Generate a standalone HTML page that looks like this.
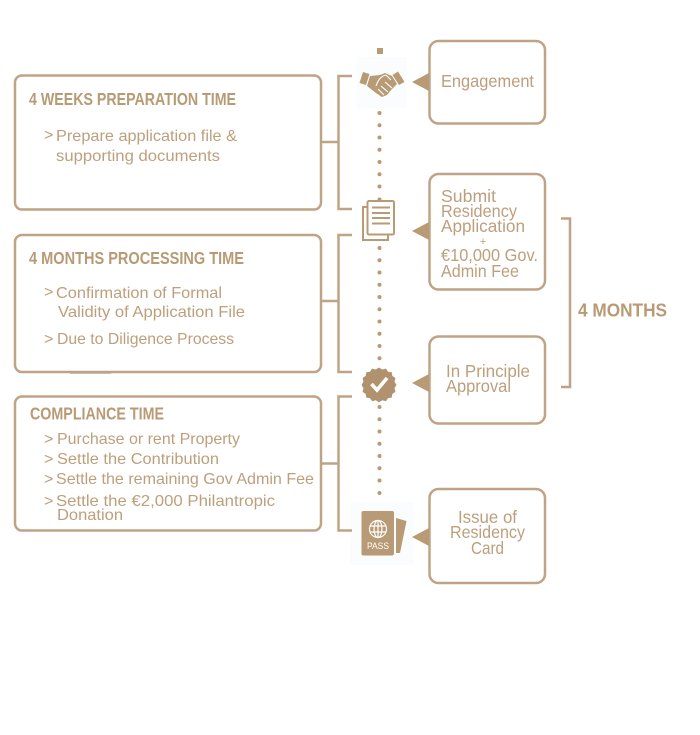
<!DOCTYPE html>
<html>
<head>
<meta charset="utf-8">
<style>
html,body{margin:0;padding:0;background:#fff;width:700px;height:735px;overflow:hidden}
svg{display:block}
text{font-family:"Liberation Sans",sans-serif;fill:#bd9f7c}
.h{font-weight:bold;font-size:17.500px;fill:#b89a74}
.t{font-size:16px}
.r{font-size:17.500px}
</style>
</head>
<body>
<svg width="700" height="735" viewBox="0 0 700 735" xmlns="http://www.w3.org/2000/svg">
<rect width="700" height="735" fill="#fff"/>
<rect x="357" y="57" width="50" height="51" fill="#fbfcfe"/>
<rect x="350" y="502" width="64" height="63" fill="#fbfcfe"/>
<rect x="70" y="371" width="41" height="3" fill="#c4c6cb"/>

<!-- left boxes -->
<g fill="none" stroke="#bfa385" stroke-width="2.500">
<rect x="15" y="75.500" width="306" height="134" rx="7"/>
<rect x="15" y="235" width="306" height="137" rx="7"/>
<rect x="15" y="396.500" width="306" height="134" rx="7"/>
<!-- brackets -->
<path d="M352 76H338.500V209H352M321 142H338.500"/>
<path d="M352 235H338.500V372H352M321 301H338.500"/>
<path d="M352 396.500H338.500V530.500H352M321 463.500H338.500"/>
<!-- right boxes -->
<rect x="429.500" y="41" width="115.500" height="82.500" rx="9"/>
<rect x="429.500" y="174" width="115.500" height="115.500" rx="9"/>
<rect x="429.500" y="336.500" width="115.500" height="87" rx="9"/>
<rect x="429.500" y="489" width="115.500" height="94" rx="9"/>
<path d="M561 218.500H570V387H561"/>
</g>

<!-- triangles -->
<g fill="#b89a74">
<polygon points="412,82 429,73 429,91"/>
<polygon points="412,231 429,222 429,240"/>
<polygon points="412,383 429,374 429,392"/>
<polygon points="412,537 429,528 429,546"/>
</g>

<!-- dotted line -->
<rect x="377" y="48" width="6" height="6" fill="#b89a74"/>
<g fill="#b89a74">
<circle cx="379.500" cy="113" r="2"/><circle cx="379.500" cy="125.200" r="2"/><circle cx="379.500" cy="137.500" r="2"/><circle cx="379.500" cy="149.700" r="2"/><circle cx="379.500" cy="162" r="2"/><circle cx="379.500" cy="174.200" r="2"/><circle cx="379.500" cy="186.500" r="2"/>
<circle cx="379.500" cy="248" r="2"/><circle cx="379.500" cy="260.200" r="2"/><circle cx="379.500" cy="272.500" r="2"/><circle cx="379.500" cy="284.700" r="2"/><circle cx="379.500" cy="297" r="2"/><circle cx="379.500" cy="309.200" r="2"/><circle cx="379.500" cy="321.500" r="2"/><circle cx="379.500" cy="333.700" r="2"/><circle cx="379.500" cy="346" r="2"/><circle cx="379.500" cy="358.200" r="2"/>
<circle cx="379.500" cy="407" r="2"/><circle cx="379.500" cy="419.300" r="2"/><circle cx="379.500" cy="431.500" r="2"/><circle cx="379.500" cy="443.800" r="2"/><circle cx="379.500" cy="456" r="2"/><circle cx="379.500" cy="468.300" r="2"/><circle cx="379.500" cy="480.500" r="2"/><circle cx="379.500" cy="493" r="2"/>
</g>

<!-- handshake icon -->
<g fill="#b89a74">
<polygon points="363,72 369.500,74 366,85 359.500,83"/>
<polygon points="398,71.500 404.500,82 399,85 392.500,75"/>
<path d="M370,76 L380,75 L385,73 L392,76 L397,84 L392,89 L387,95 L382,97 L376,93 L367,86Z"/>
</g>
<path d="M376,86 C378,80 381,76 386,75 L391,80 M385,82 L392,88 M381,86 L388,92 M378,89 L384,95" fill="none" stroke="#fff" stroke-width="1.100"/>

<!-- documents icon -->
<g fill="none" stroke="#b89a74" stroke-width="2">
<path d="M367,207H363V240H388V235"/>
<rect x="367.500" y="201" width="26.500" height="33.500" rx="1.500" fill="#fff"/>
<path d="M372,207.500H390M372,213H390M372,218H390M372,223.500H390" stroke-width="2"/>
</g>
<circle cx="379.500" cy="199.500" r="2" fill="#b89a74"/>

<!-- check badge -->
<path transform="translate(379 384) scale(.92) translate(-379 -385)" d="M379 367l3.500 2.300 4-1 2.300 3.400 4 .5.700 4 3.400 2.300-1 4 2.100 3.500-2.100 3.500 1 4-3.400 2.300-.7 4-4 .5-2.300 3.400-4-1-3.500 2.300-3.500-2.300-4 1-2.300-3.400-4-.5-.7-4-3.400-2.300 1-4-2.100-3.500 2.100-3.500-1-4 3.400-2.300.7-4 4-.5 2.300-3.400 4 1z" fill="#b0926f"/>
<path d="M371.500,384 L377,390 L387,378" fill="none" stroke="#fff" stroke-width="3.600"/>

<!-- passport icon -->
<polygon points="396,518 406.500,521 400,553 396,553" fill="#b89a74"/>
<rect x="361.500" y="511" width="32.500" height="44.500" rx="2" fill="#b89a74"/>
<g fill="none" stroke="#fff" stroke-width="1.200">
<circle cx="378" cy="529" r="8.500"/>
<ellipse cx="378" cy="529" rx="4" ry="8.500"/>
<path d="M378,520.500V537.500M370,526H386M370,532H386"/>
</g>
<text x="378" y="549" text-anchor="middle" font-size="9" style="fill:#fff" textLength="22" lengthAdjust="spacingAndGlyphs">PASS</text>

<!-- left text -->
<text class="h" x="29" y="105" textLength="207" lengthAdjust="spacingAndGlyphs">4 WEEKS PREPARATION TIME</text>
<text class="t" x="44" y="140">&gt;</text>
<text class="t" x="56" y="141" textLength="181" lengthAdjust="spacingAndGlyphs">Prepare application file &amp;</text>
<text class="t" x="56" y="161" textLength="164" lengthAdjust="spacingAndGlyphs">supporting documents</text>

<text class="h" x="29" y="264" textLength="215" lengthAdjust="spacingAndGlyphs">4 MONTHS PROCESSING TIME</text>
<text class="t" x="44" y="297">&gt;</text>
<text class="t" x="56" y="298" textLength="166" lengthAdjust="spacingAndGlyphs">Confirmation of Formal</text>
<text class="t" x="58" y="317" textLength="187" lengthAdjust="spacingAndGlyphs">Validity of Application File</text>
<text class="t" x="44" y="344">&gt;</text>
<text class="t" x="57" y="344" textLength="177" lengthAdjust="spacingAndGlyphs">Due to Diligence Process</text>

<text class="h" x="30" y="419.500" textLength="134" lengthAdjust="spacingAndGlyphs">COMPLIANCE TIME</text>
<text class="t" x="44" y="444">&gt;</text>
<text class="t" x="57" y="444" textLength="183" lengthAdjust="spacingAndGlyphs">Purchase or rent Property</text>
<text class="t" x="44" y="464">&gt;</text>
<text class="t" x="57" y="464" textLength="162" lengthAdjust="spacingAndGlyphs">Settle the Contribution</text>
<text class="t" x="44" y="484">&gt;</text>
<text class="t" x="56" y="484" textLength="258" lengthAdjust="spacingAndGlyphs">Settle the remaining Gov Admin Fee</text>
<text class="t" x="44" y="506">&gt;</text>
<text class="t" x="56" y="506" textLength="219" lengthAdjust="spacingAndGlyphs">Settle the €2,000 Philantropic</text>
<text class="t" x="57" y="520" textLength="66" lengthAdjust="spacingAndGlyphs">Donation</text>

<!-- right text -->
<text class="r" x="441" y="87" textLength="93" lengthAdjust="spacingAndGlyphs">Engagement</text>
<text class="r" x="441" y="202" textLength="55" lengthAdjust="spacingAndGlyphs">Submit</text>
<text class="r" x="441" y="217" textLength="76" lengthAdjust="spacingAndGlyphs">Residency</text>
<text class="r" x="441" y="232" textLength="84" lengthAdjust="spacingAndGlyphs">Application</text>
<text x="483" y="245" text-anchor="middle" font-size="11">+</text>
<text class="r" x="441" y="261" textLength="97" lengthAdjust="spacingAndGlyphs">€10,000 Gov.</text>
<text class="r" x="441" y="277" textLength="78" lengthAdjust="spacingAndGlyphs">Admin Fee</text>
<text class="r" x="446" y="377" textLength="84" lengthAdjust="spacingAndGlyphs">In Principle</text>
<text class="r" x="446" y="392" textLength="65" lengthAdjust="spacingAndGlyphs">Approval</text>
<text class="r" x="458" y="523" textLength="59" lengthAdjust="spacingAndGlyphs">Issue of</text>
<text class="r" x="450" y="538" textLength="75" lengthAdjust="spacingAndGlyphs">Residency</text>
<text class="r" x="471" y="554" textLength="33" lengthAdjust="spacingAndGlyphs">Card</text>

<text x="578" y="316.500" font-size="18" font-weight="bold" style="fill:#b89a74" textLength="89" lengthAdjust="spacingAndGlyphs">4 MONTHS</text>
</svg>
</body>
</html>
